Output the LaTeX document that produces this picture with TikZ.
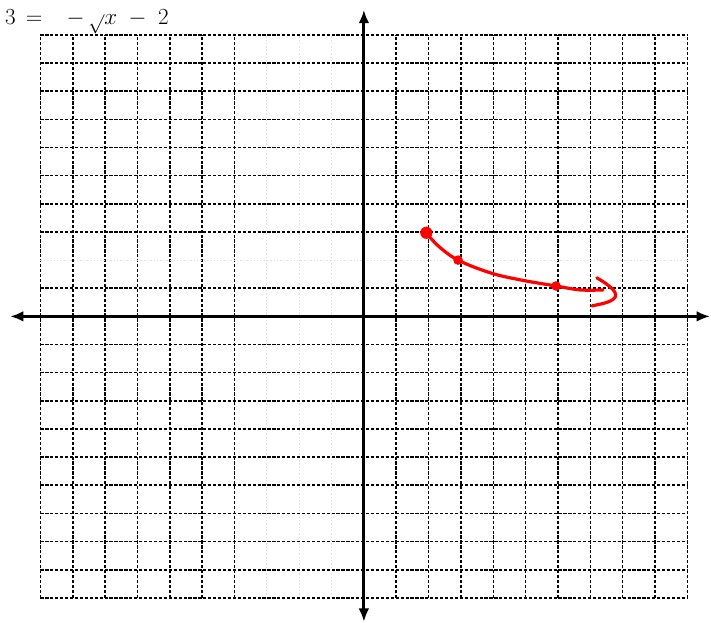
\documentclass[tikz,border=0pt]{standalone}
\usetikzlibrary{arrows.meta}
\tikzset{
  gridline/.style={line width=1.2pt, dash pattern=on 2.4pt off 1.3pt},
  faintline/.style={gray!25, line width=0.8pt, dash pattern=on 1pt off 1.5pt},
  axisline/.style={line width=2.2pt, -{Latex[length=10pt,width=8pt]}},
}
\begin{document}
\begin{tikzpicture}[x=24.26pt, y=21.11pt]
\useasboundingbox (-11.25,-10.89) rectangle (10.73,11.24);
% grid
\foreach \i in {-10,...,-4,0,1,...,10}
  \draw[gridline] (\i,-10) -- (\i,10);
\foreach \i in {-3,-2,-1}
  \draw[faintline] (\i,-10) -- (\i,10);
\foreach \j in {-10,...,1,3,4,...,10}
  \draw[gridline] (-10,\j) -- (10,\j);
\draw[faintline] (-10,2) -- (10,2);
% axes
\coordinate (o) at (0,0);
\coordinate (xl) at (-10.94,0);
\coordinate (xr) at (10.70,0);
\coordinate (yb) at (0,-10.85);
\coordinate (yt) at (0,10.89);
\draw[axisline] (o) -- (xl);
\draw[axisline] (o) -- (xr);
\draw[axisline] (o) -- (yb);
\draw[axisline] (o) -- (yt);
% title
\node[anchor=base west, inner sep=0pt, font=\fontsize{19}{23}\selectfont] (eq) at (-11.1,10.36)
  {$3\,=\hspace{0.7em}-\,\raisebox{-3pt}{\fontsize{14}{16}\selectfont$\surd$}x\;-\;2$};
% graph
\draw[red, line width=2.4pt, line cap=round, line join=round] plot[smooth, tension=0.6]
  coordinates {(1.93,2.97) (2.3,2.5) (2.91,2.0) (3.9,1.55) (4.82,1.30) (5.94,1.08) (6.68,0.94) (7.39,0.94)};
\draw[red, line width=2.4pt, line cap=round] (7.2,1.37) .. controls (7.6,1.1) and (7.95,0.8) .. (7.7,0.6)
  .. controls (7.5,0.45) and (7.2,0.42) .. (7.05,0.37);
\fill[red] (1.93,2.97) circle (4.6pt);
\fill[red] (2.91,2.0) circle (3.6pt);
\fill[red] (5.94,1.08) circle (3.6pt);
\end{tikzpicture}
\end{document}
